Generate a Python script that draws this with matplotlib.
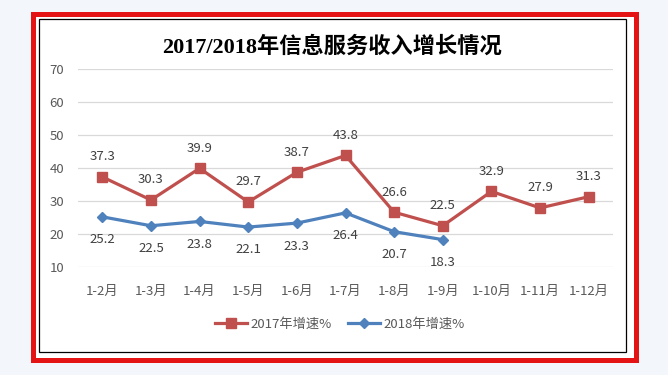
import matplotlib.pyplot as plt
from matplotlib.patches import Rectangle

plt.rcParams['font.family'] = ['Noto Sans CJK SC', 'DejaVu Sans']

months = ["1-2月", "1-3月", "1-4月", "1-5月", "1-6月", "1-7月",
          "1-8月", "1-9月", "1-10月", "1-11月", "1-12月"]
growth_2017 = [37.3, 30.3, 39.9, 29.7, 38.7, 43.8, 26.6, 22.5, 32.9, 27.9, 31.3]
growth_2018 = [25.2, 22.5, 23.8, 22.1, 23.3, 26.4, 20.7, 18.3]
yticks = [10, 20, 30, 40, 50, 60, 70]

W, H = 668, 375
RED = "#C0504D"
BLUE = "#4F81BD"
GRAY = "#595959"

fig = plt.figure(figsize=(W / 100, H / 100), dpi=100, facecolor="#f3f6fb")

def fx(x):
    return x / W

def fy(y):
    return 1 - y / H

# red frame and inner black frame
fig.patches.append(Rectangle((fx(32.5), fy(359.5)), fx(635.5) - fx(32.5), fy(13.5) - fy(359.5),
                             transform=fig.transFigure, facecolor="white",
                             edgecolor="#e41414", linewidth=3.6, zorder=-2))
fig.patches.append(Rectangle((fx(39), fy(352)), fx(626) - fx(39), fy(19) - fy(352),
                             transform=fig.transFigure, facecolor="white",
                             edgecolor="black", linewidth=0.9, zorder=-1))

ax = fig.add_axes([fx(78), fy(267), fx(613) - fx(78), fy(69) - fy(267)])
ax.set_zorder(2)
ax.set_facecolor("none")

x17 = list(range(len(growth_2017)))
x18 = list(range(len(growth_2018)))
ax.plot(x17, growth_2017, color=RED, lw=2.3, marker="s", markersize=7.5,
        label="2017年增速%", zorder=3)
ax.plot(x18, growth_2018, color=BLUE, lw=2.3, marker="D", markersize=5.5,
        label="2018年增速%", zorder=3)

for x, v in zip(x17, growth_2017):
    ax.annotate(f"{v}", (x, v), xytext=(0, 14.5), textcoords="offset points",
                ha="center", va="center", fontsize=9.5, color="#404040")
for x, v in zip(x18, growth_2018):
    ax.annotate(f"{v}", (x, v), xytext=(0, -16.5), textcoords="offset points",
                ha="center", va="center", fontsize=9.5, color="#404040")

ax.set_xlim(-0.5, len(months) - 0.5)
ax.set_ylim(10, 70)
ax.set_yticks(yticks)
ax.set_xticks(x17)
ax.set_xticklabels(months)
ax.grid(axis="y", color="#d9d9d9", lw=0.9)
ax.set_axisbelow(True)
for s in ax.spines.values():
    s.set_visible(False)
ax.tick_params(axis="y", length=0, pad=10, labelsize=9.5, labelcolor=GRAY)
ax.tick_params(axis="x", length=0, pad=13, labelsize=9.5, labelcolor=GRAY)

fig.text(fx(332), fy(47), "2017/2018年信息服务收入增长情况",
         family=["Liberation Serif", "Noto Sans CJK SC"], fontweight="bold",
         fontsize=16, ha="center", va="center", color="black")

fig.legend(loc="center", bbox_to_anchor=(fx(340), fy(324)), ncol=2, frameon=False,
           fontsize=9.5, labelcolor=GRAY, handlelength=2.4, columnspacing=1.2,
           handletextpad=0.3)

fig.savefig("out.png", dpi=100, facecolor=fig.get_facecolor())
